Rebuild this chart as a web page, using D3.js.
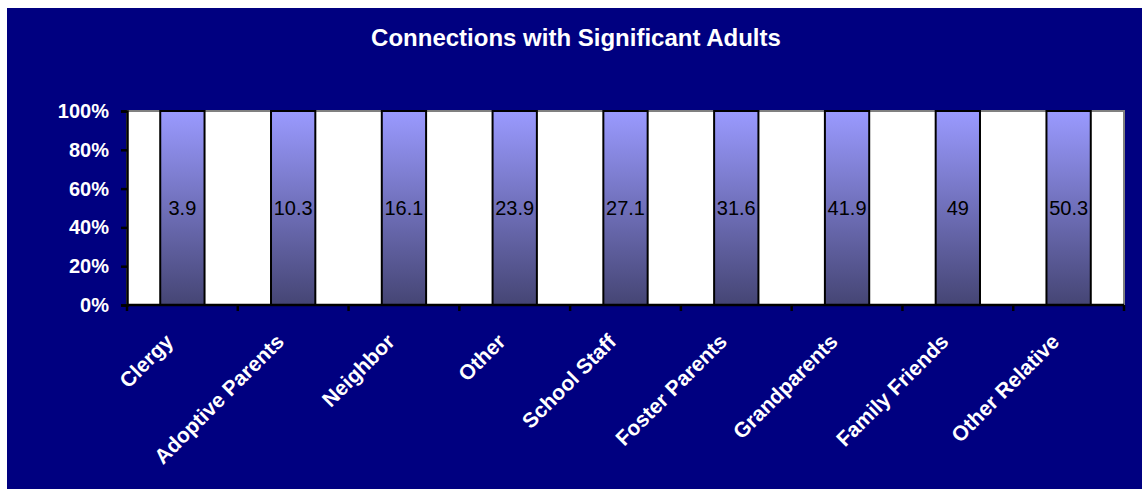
<!DOCTYPE html>
<html>
<head>
<meta charset="utf-8">
<script src="https://cdn.jsdelivr.net/npm/d3@7"></script>
<style>
  html, body { margin: 0; padding: 0; background: #ffffff; }
  svg { display: block; }
  text { font-family: Arial, "Liberation Sans", sans-serif; }
</style>
</head>
<body>
<script>
// Share of respondents reporting a connection with each kind of adult
const categories = ["Clergy", "Adoptive Parents", "Neighbor", "Other", "School Staff",
                    "Foster Parents", "Grandparents", "Family Friends", "Other Relative"];
const values = [3.9, 10.3, 16.1, 23.9, 27.1, 31.6, 41.9, 49, 50.3];
const yTicks = [0, 0.2, 0.4, 0.6, 0.8, 1.0];
const titleText = "Connections with Significant Adults";

const W = 1142, H = 489;
const plot = { left: 127, right: 1124, top: 111, bottom: 305 };

const svg = d3.select("body").append("svg").attr("width", W).attr("height", H);

// chart background
svg.append("rect").attr("x", 7).attr("y", 8).attr("width", W - 7).attr("height", H - 8)
  .attr("fill", "#000080");

// title
svg.append("text").attr("x", 576).attr("y", 46).attr("text-anchor", "middle")
  .attr("fill", "#ffffff").attr("font-weight", "bold").attr("font-size", 24)
  .text(titleText);

const x = d3.scaleBand().domain(categories).range([plot.left, plot.right]).paddingInner(0).paddingOuter(0);
const y = d3.scaleLinear().domain([0, 1]).range([plot.bottom, plot.top]);

// plot area
svg.append("rect").attr("x", plot.left).attr("y", plot.top)
  .attr("width", plot.right - plot.left).attr("height", plot.bottom - plot.top)
  .attr("fill", "#ffffff").attr("stroke", "#808080").attr("stroke-width", 2);

// bar gradient
const defs = svg.append("defs");
const grad = defs.append("linearGradient").attr("id", "barFill")
  .attr("x1", 0).attr("y1", 0).attr("x2", 0).attr("y2", 1);
grad.append("stop").attr("offset", "0%").attr("stop-color", "#9a9aff");
grad.append("stop").attr("offset", "100%").attr("stop-color", "#454574");

// 100% stacked layout: a single series expands to the full height
const rows = categories.map((c, i) => ({ category: c, value: values[i] }));
const stacked = d3.stack().keys(["value"]).offset(d3.stackOffsetExpand)(rows)[0];

const barW = x.bandwidth() * 0.4;
const bars = svg.append("g");
bars.selectAll("rect").data(stacked).join("rect")
  .attr("x", d => x(d.data.category) + (x.bandwidth() - barW) / 2)
  .attr("y", d => y(d[1]))
  .attr("width", barW)
  .attr("height", d => y(d[0]) - y(d[1]))
  .attr("fill", "url(#barFill)")
  .attr("stroke", "#000000").attr("stroke-width", 2);

// value labels
bars.selectAll("text").data(stacked).join("text")
  .attr("x", d => x(d.data.category) + x.bandwidth() / 2)
  .attr("y", d => y((d[0] + d[1]) / 2))
  .attr("dy", "0.35em")
  .attr("text-anchor", "middle").attr("font-size", 20).attr("fill", "#000000")
  .text(d => d.data.value);

// y axis
const yAxis = svg.append("g").attr("transform", `translate(${plot.left},0)`)
  .call(d3.axisLeft(y).tickValues(yTicks).tickFormat(d3.format(".0%")).tickSize(6).tickPadding(12));
yAxis.select(".domain").attr("stroke", "#000000").attr("stroke-width", 2.5);
yAxis.selectAll(".tick line").attr("stroke", "#000000").attr("stroke-width", 2.5);
yAxis.selectAll(".tick text").attr("fill", "#ffffff").attr("font-weight", "bold")
  .attr("font-size", 20).attr("font-family", "Arial, 'Liberation Sans', sans-serif");

// x axis: ticks on category boundaries
const bounds = categories.map(c => x(c)).concat([plot.right]);
const xAxis = svg.append("g");
xAxis.append("line").attr("x1", plot.left).attr("x2", plot.right)
  .attr("y1", plot.bottom).attr("y2", plot.bottom)
  .attr("stroke", "#000000").attr("stroke-width", 2.5);
xAxis.selectAll("line.tick").data(bounds).join("line").attr("class", "tick")
  .attr("x1", d => d).attr("x2", d => d)
  .attr("y1", plot.bottom).attr("y2", plot.bottom + 6)
  .attr("stroke", "#000000").attr("stroke-width", 2.5);

xAxis.selectAll("text").data(categories).join("text")
  .attr("transform", d => `translate(${x(d) + x.bandwidth() / 2 - 8},${plot.bottom + 38}) rotate(-45)`)
  .attr("text-anchor", "end")
  .attr("fill", "#ffffff").attr("font-weight", "bold").attr("font-size", 21)
  .text(d => d);
</script>
</body>
</html>
